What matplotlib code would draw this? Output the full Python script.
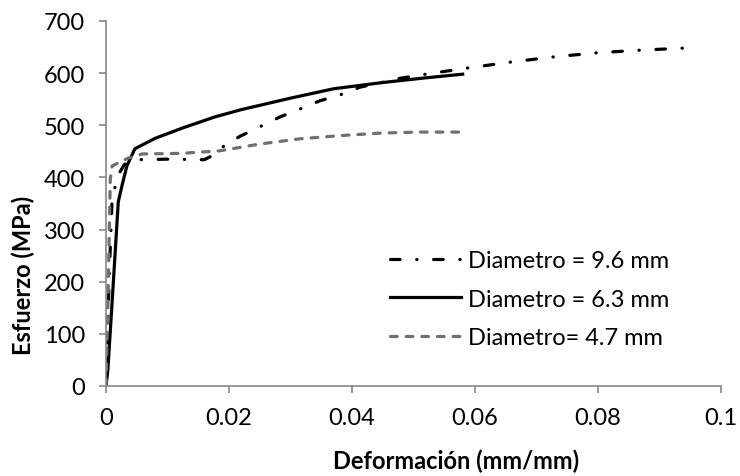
import matplotlib.pyplot as plt

# Data (strain mm/mm, stress MPa)
strain_96 = [0, 0.0005, 0.001, 0.002, 0.003, 0.005, 0.01, 0.016, 0.017, 0.0189, 0.0218, 0.025,
             0.0283, 0.0315, 0.0348, 0.038, 0.0413, 0.0478, 0.052, 0.0589, 0.0657, 0.0727,
             0.0798, 0.0868, 0.094]
stress_96 = [0, 200, 360, 405, 425, 434, 435, 434, 440, 458, 479, 497,
             516, 531, 547, 558, 573, 590, 598, 610, 621, 631,
             639, 644, 648]

strain_63 = [0, 0.0003, 0.0011, 0.002, 0.0026, 0.0034, 0.0047, 0.008, 0.0125, 0.0177, 0.022,
             0.03, 0.037, 0.045, 0.052, 0.058]
stress_63 = [0, 30, 180, 353, 384, 422, 455, 475, 495, 516, 530,
             552, 570, 582, 591, 598]

strain_47 = [0, 0.0003, 0.0007, 0.001, 0.0036, 0.0059, 0.012, 0.0185, 0.025, 0.0315,
             0.038, 0.0446, 0.051, 0.058]
stress_47 = [0, 150, 397, 422, 437, 445, 446, 451, 464, 474,
             480, 485, 487, 487]

labels = ['Diametro = 9.6 mm', 'Diametro = 6.3 mm', 'Diametro= 4.7 mm']

plt.rcParams['font.family'] = ['Lato', 'DejaVu Sans']

fig = plt.figure(figsize=(7.4, 4.77), dpi=100)
ax = fig.add_axes([0.1432, 0.1887, 0.8311, 0.7652])

ax.plot(strain_96, stress_96, color='black', linewidth=2.3, dashes=(3.0, 5.2, 0.1, 5.2),
        dash_capstyle='round', label=labels[0])
ax.plot(strain_63, stress_63, color='black', linewidth=2.3, label=labels[1])
ax.plot(strain_47, stress_47, color='#707070', linewidth=2.3, dashes=(2.1, 2.8),
        dash_capstyle='round', label=labels[2])

ax.set_xlim(0, 0.1)
ax.set_ylim(0, 700)
ax.set_xticks([0, 0.02, 0.04, 0.06, 0.08, 0.1])
ax.set_xticklabels(['0', '0.02', '0.04', '0.06', '0.08', '0.1'])
ax.set_yticks(range(0, 701, 100))

for side in ['top', 'right']:
    ax.spines[side].set_visible(False)
for side in ['left', 'bottom']:
    ax.spines[side].set_color('#868686')
    ax.spines[side].set_linewidth(1.2)
ax.tick_params(direction='out', length=5, width=1.2, color='#868686', labelsize=17)
ax.tick_params(axis='x', pad=10)
ax.tick_params(axis='y', pad=10)

ax.set_xlabel('Deformación (mm/mm)', fontsize=17, fontweight='bold')
ax.set_ylabel('Esfuerzo (MPa)', fontsize=17, fontweight='bold')
ax.xaxis.set_label_coords(0.569, -0.203)
ax.yaxis.set_label_coords(-0.135, 0.305)
ax.xaxis.label.set_va('center')
ax.yaxis.label.set_va('center')

ax.legend(loc='center left', bbox_to_anchor=(0.462, 0.238), frameon=False, fontsize=17,
          handlelength=3.0, handletextpad=0.3, labelspacing=0.73,
          borderpad=0, borderaxespad=0)

fig.savefig('out.png', dpi=100)
